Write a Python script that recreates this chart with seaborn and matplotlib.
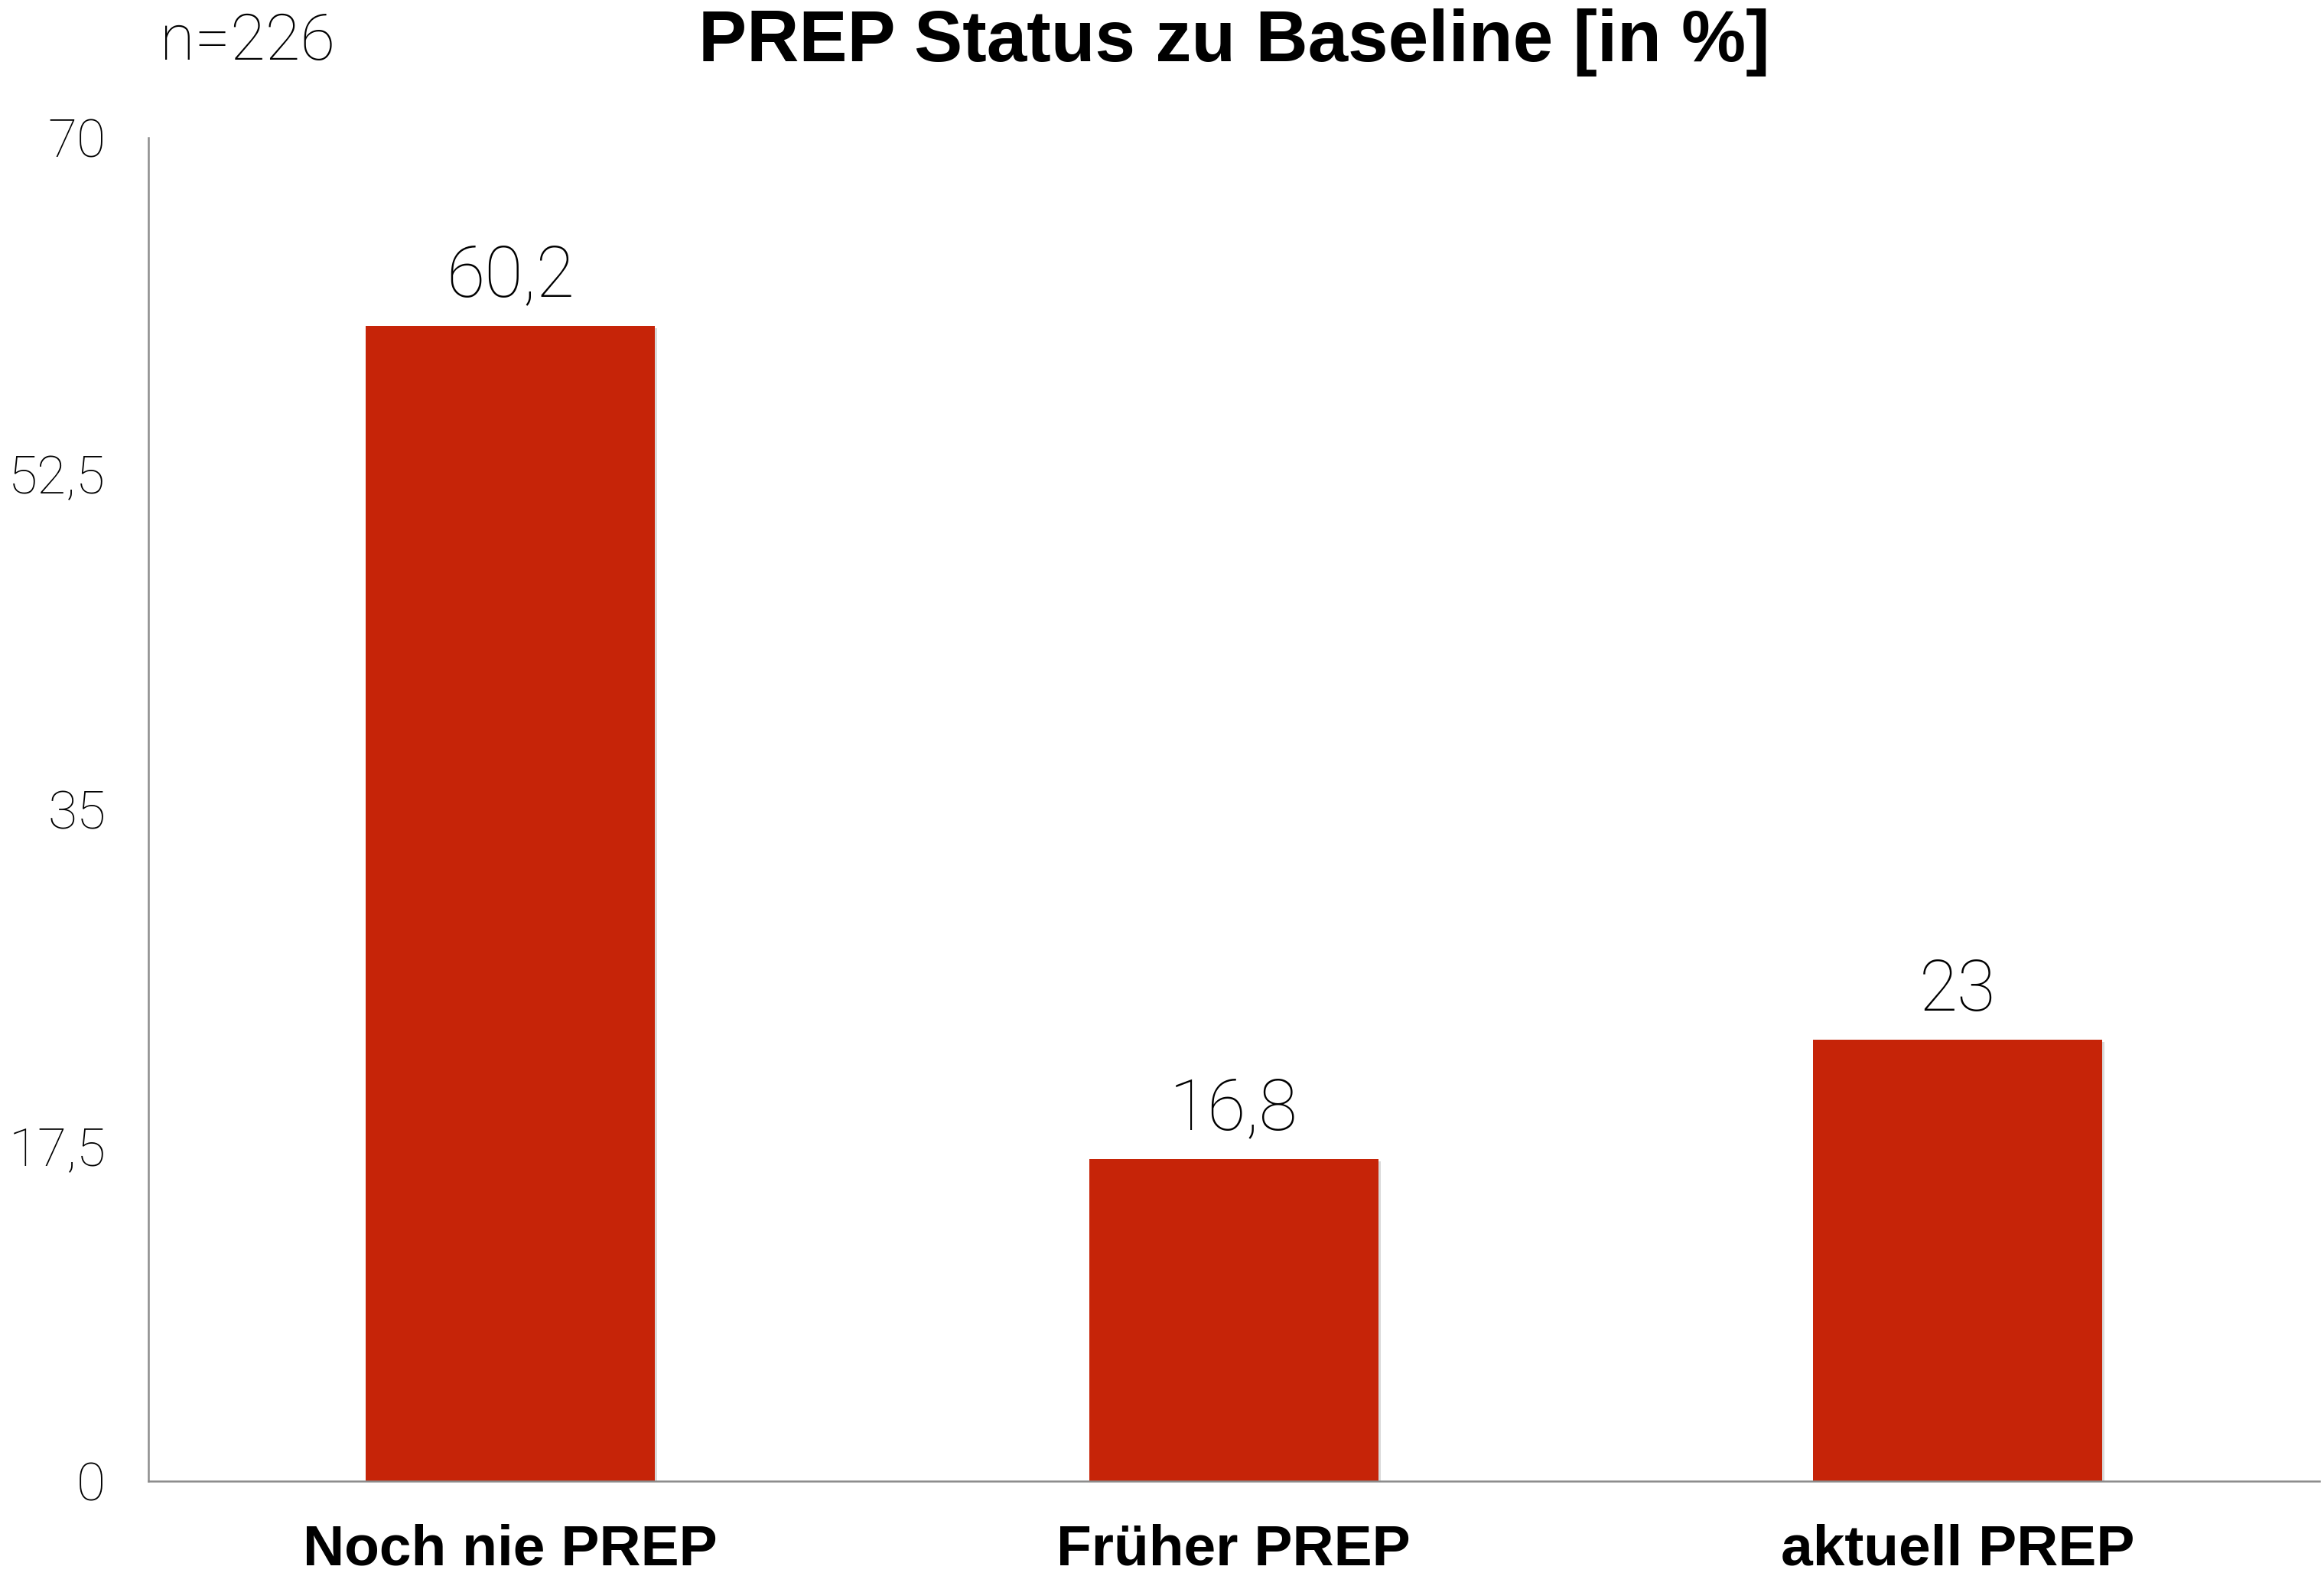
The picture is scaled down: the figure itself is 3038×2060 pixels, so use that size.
import matplotlib
matplotlib.use("Agg")
import matplotlib.pyplot as plt
import matplotlib.patheffects as pe
import seaborn as sns

sns.set_style("white")

categories = ["Noch nie PREP", "Früher PREP", "aktuell PREP"]
values = [60.2, 16.8, 23]
y_ticks = [0, 17.5, 35, 52.5, 70]
title = "PREP Status zu Baseline [in %]"
n_label = "n=226"

BAR_COLOR = "#C62408"
AXIS_COLOR = "#8c8c8c"
LIGHT = "Roboto"
BOLD = "Liberation Sans"


def de(v):
    # german decimal comma
    return f"{v:g}".replace(".", ",")


fig, ax = plt.subplots(figsize=(15.19, 10.3), dpi=200)
fig.subplots_adjust(left=0.0638, right=0.998, bottom=0.0602, top=0.9126)

sns.barplot(x=categories, y=values, color=BAR_COLOR, saturation=1,
            width=0.4, linewidth=0, ax=ax)

# soft shadow like the original
for p in ax.patches:
    p.set_path_effects([pe.SimplePatchShadow(offset=(1.2, -1.2), alpha=0.15,
                                             shadow_rgbFace="black"),
                        pe.Normal()])

ax.bar_label(ax.containers[0], labels=[de(v) for v in values], padding=7,
             fontsize=33, fontfamily=LIGHT, fontweight="light", color="black")

ax.set_xlim(-0.5, 2.5)
ax.set_ylim(0, 70)
ax.set_yticks(y_ticks)
ax.set_yticklabels([de(v) for v in y_ticks], fontsize=25, fontfamily=LIGHT,
                   fontweight="light", color="black")

ax.set_xticks([0, 1, 2])
ax.set_xticklabels(categories, fontsize=27, fontfamily=BOLD, fontweight="bold",
                   color="black")
ax.set_xticks([-0.5, 0.5, 1.5, 2.5], minor=True)
ax.tick_params(axis="x", which="major", length=0, pad=20)
ax.tick_params(axis="x", which="minor", length=5, width=0.8, direction="inout",
               color=AXIS_COLOR)
ax.tick_params(axis="y", length=3, width=0.8, color=AXIS_COLOR, pad=17,
               direction="out")
ax.set_xlabel("")
ax.set_ylabel("")

for side in ["top", "right"]:
    ax.spines[side].set_visible(False)
for side in ["left", "bottom"]:
    ax.spines[side].set_color(AXIS_COLOR)
    ax.spines[side].set_linewidth(0.9)

ax.set_title(title, fontsize=34, fontfamily=BOLD, fontweight="bold", pad=36,
             color="black")
fig.text(0.0688, 0.962, n_label, fontsize=30, fontfamily=LIGHT,
         fontweight="light", ha="left", va="baseline", color="black")

fig.savefig("out.png", dpi=200, facecolor="white")
